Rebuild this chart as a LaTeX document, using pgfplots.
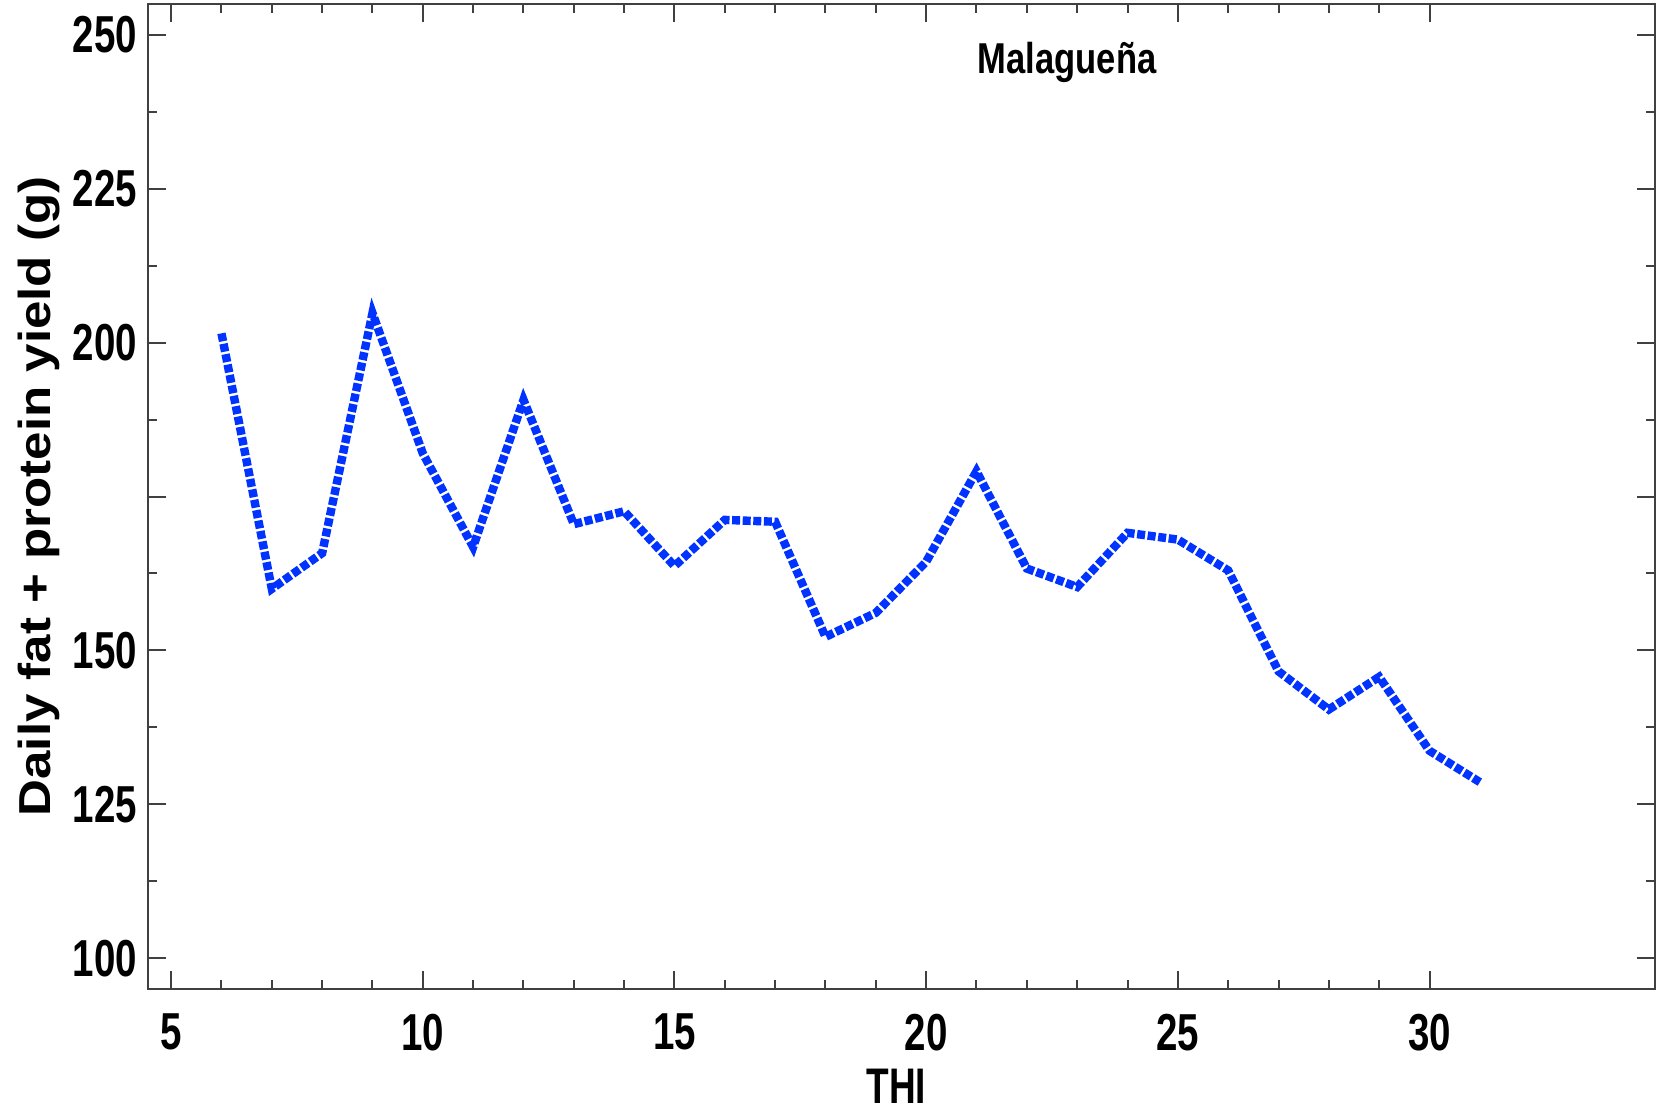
\documentclass[border=0pt]{standalone}
\usepackage{fontspec}
\setmainfont{Liberation Sans}
\newfontfamily\narrowfont{Liberation Sans}[FakeStretch=0.74]
\newfontfamily\titlefont{Liberation Sans}[FakeStretch=0.80]
\newfontfamily\widefont{Liberation Sans}[FakeStretch=1.14]
\usepackage{pgfplots}
\pgfplotsset{compat=1.18}
\definecolor{lineblue}{RGB}{0,51,255}
\begin{document}
\begin{tikzpicture}
\begin{axis}[
  scale only axis, width=376.75pt, height=246.25pt,
  xmin=4.54, xmax=34.48, ymin=95, ymax=255,
  xtick={5,10,...,30}, ytick={100,125,...,250},
  yticklabels={100,125,150,,200,225,250},
  minor x tick num=4, minor y tick num=1,
  tick align=inside,
  major tick length=4.5pt, minor tick length=2.25pt,
  axis line style={black!75, line width=0.5pt},
  every tick/.style={black!75, line width=0.5pt},
  /pgf/number format/assume math mode=true,
  ticklabel style={font=\narrowfont\bfseries\fontsize{13}{15}\selectfont},
  xticklabel style={inner sep=0pt, anchor=north, yshift=-6pt},
  yticklabel style={inner sep=0pt, anchor=east, xshift=-2.5pt},
  xlabel={THI},
  xlabel style={at={(axis description cs:0.4965,-0.08)}, anchor=north, inner sep=0pt, font=\narrowfont\bfseries\fontsize{12.5}{14}\selectfont},
  ylabel={Daily fat + protein yield (g)},
  ylabel style={at={(axis description cs:-0.065,0.5)}, anchor=base, inner sep=0pt, font=\widefont\bfseries\fontsize{11.2}{13}\selectfont},
]
\addplot[lineblue, line width=2.1pt, dash pattern=on 2.0pt off 0.65pt, line join=miter] coordinates {
(6,201.5) (7,160.0) (8,165.8) (9,204.8) (10,182.0) (11,166.8) (12,190.7)
(13,170.5) (14,172.6) (15,163.7) (16,171.2) (17,170.9) (18,152.2) (19,156.1)
(20,164.4) (21,179.1) (22,163.3) (23,160.3) (24,169.1) (25,168.0) (26,163.0)
(27,146.6) (28,140.4) (29,145.7) (30,133.7) (31,128.6)
};
\node[anchor=base, inner sep=0pt, font=\titlefont\bfseries\fontsize{10.8}{12}\selectfont] at (axis cs:22.8,243.7) {Malagueña};
\end{axis}
\path (current axis.south west) ++(-37pt,-32pt);
\path (current axis.north east) ++(1.75pt,1pt);
\end{tikzpicture}
\end{document}
